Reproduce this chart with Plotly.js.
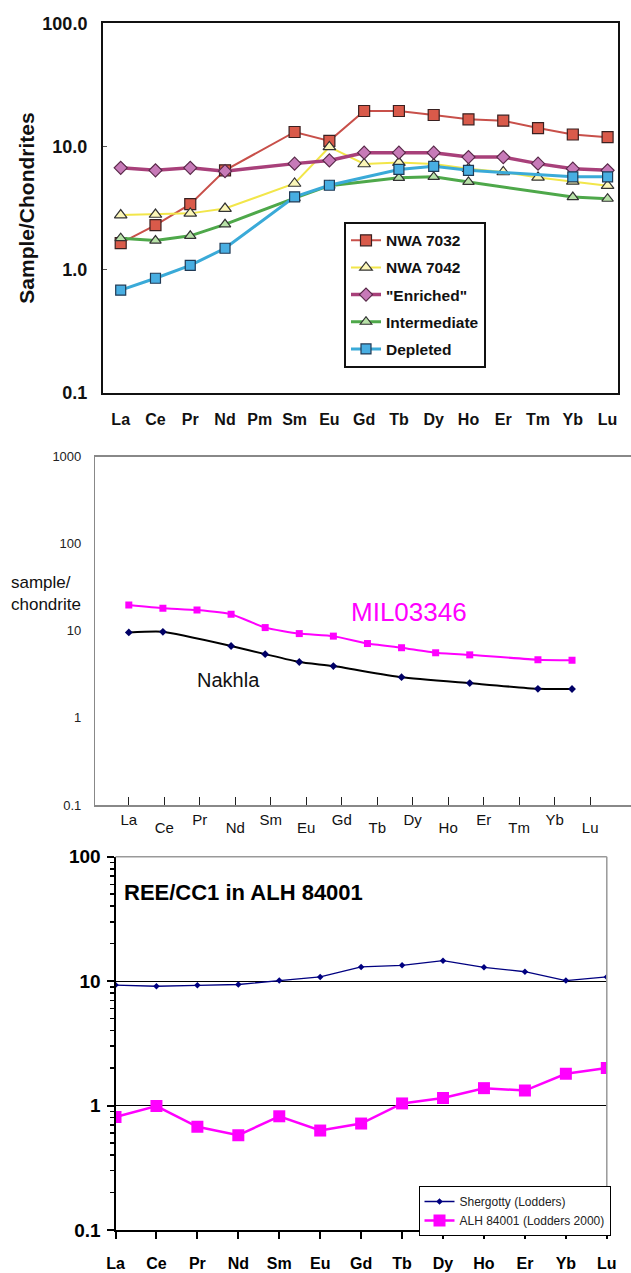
<!DOCTYPE html>
<html><head><meta charset="utf-8">
<script src="https://cdn.plot.ly/plotly-3.0.1.min.js"></script>
<style>html,body{margin:0;padding:0;background:#fff}#c{width:631px;height:1273px}</style>
</head><body><div id="c"></div>
<script>
// ---------- Chart 1 ----------
const ree1 = ['La','Ce','Pr','Nd','Pm','Sm','Eu','Gd','Tb','Dy','Ho','Er','Tm','Yb','Lu'];
const nwa7032 = [1.64,2.3,3.4,6.4,null,13.1,11.1,19.4,19.4,18.0,16.6,16.2,14.1,12.5,11.9];
const nwa7042 = [2.77,2.8,2.86,3.13,null,5.0,9.9,7.2,7.4,7.2,6.6,6.2,5.6,5.2,4.8];
const enriched = [6.7,6.4,6.7,6.3,null,7.25,7.7,8.9,8.9,8.9,8.2,8.2,7.25,6.6,6.4];
const intermediate = [1.8,1.72,1.88,2.33,null,3.8,4.8,null,5.56,5.66,5.15,null,null,3.88,3.76];
const depleted = [0.68,0.85,1.08,1.49,null,3.9,4.84,null,6.5,6.9,6.4,null,null,5.66,5.66];
const yTicks1 = [0.1,1,10,100];
const yTickText1 = ['0.1','1.0','10.0','100.0'];

// ---------- Chart 2 ----------
const ree2 = ['La','Ce','Pr','Nd','Sm','Eu','Gd','Tb','Dy','Ho','Er','Tm','Yb','Lu'];
const mil03346 = [19.8,18.2,17.3,15.5,10.9,9.3,8.7,7.15,6.4,5.6,5.3,null,4.67,4.6];
const nakhla = [9.6,9.75,null,6.7,5.4,4.39,3.94,null,2.94,null,2.51,null,2.16,2.15];
const yTicks2 = [0.1,1,10,100,1000];
const yTickText2 = ['0.1','1','10','100','1000'];

// ---------- Chart 3 ----------
const ree3 = ['La','Ce','Pr','Nd','Sm','Eu','Gd','Tb','Dy','Ho','Er','Yb','Lu'];
const shergotty = [9.3,9.1,9.25,9.4,10.1,10.8,13.0,13.4,14.6,12.9,11.9,10.1,10.8];
const alh84001 = [0.81,0.99,0.675,0.578,0.82,0.63,0.717,1.04,1.15,1.38,1.32,1.80,2.0];
const yTicks3 = [0.1,1,10,100];
const yTickText3 = ['0.1','1','10','100'];

const W = 631, H = 1273;
const fx = px => px / W;
const fy = py => 1 - py / H;
const B = 'Liberation Sans, Arial, sans-serif';
const idx2 = ree2.map((_, i) => i);
const minor3 = [];
[0.1, 1, 10].forEach(d => { for (let k = 2; k <= 9; k++) minor3.push(+(d * k).toPrecision(3)); });

const traces = [
  {x: ree1, y: nwa7032, name: 'NWA 7032', legendgroup:'a', mode:'lines+markers', connectgaps:true,
   line:{color:'#c8504a', width:2}, marker:{symbol:'square', size:11, color:'#d95a4a', line:{color:'#3a2020', width:1.2}}, xaxis:'x', yaxis:'y'},
  {x: ree1, y: nwa7042, name: 'NWA 7042', legendgroup:'b', mode:'lines+markers', connectgaps:true,
   line:{color:'#f2e64a', width:2}, marker:{symbol:'triangle-up', size:11, color:'#fbf6b8', line:{color:'#333', width:1.2}}, xaxis:'x', yaxis:'y'},
  {x: ree1, y: enriched, name: '"Enriched"', legendgroup:'c', mode:'lines+markers', connectgaps:true,
   line:{color:'#a8407a', width:3.5}, marker:{symbol:'diamond', size:10, color:'#c77ab8', line:{color:'#5a2a4a', width:1.2}}, xaxis:'x', yaxis:'y'},
  {x: ree1, y: intermediate, name: 'Intermediate', legendgroup:'d', mode:'lines+markers', connectgaps:true,
   line:{color:'#4ea84a', width:3}, marker:{symbol:'triangle-up', size:10, color:'#b8e2a8', line:{color:'#333', width:1.2}}, xaxis:'x', yaxis:'y'},
  {x: ree1, y: depleted, name: 'Depleted', legendgroup:'e', mode:'lines+markers', connectgaps:true,
   line:{color:'#3aaad8', width:3}, marker:{symbol:'square', size:10, color:'#48aee2', line:{color:'#203a55', width:1.2}}, xaxis:'x', yaxis:'y'},

  {x: ree2, y: mil03346, name: 'MIL03346', mode:'lines+markers', connectgaps:true, showlegend:false,
   line:{color:'#ff00ff', width:2, shape:'spline', smoothing:0.5}, marker:{symbol:'square', size:7, color:'#ff00ff'}, xaxis:'x2', yaxis:'y2'},
  {x: ree2, y: nakhla, name: 'Nakhla', mode:'lines+markers', connectgaps:true, showlegend:false,
   line:{color:'#000000', width:2, shape:'spline', smoothing:0.5}, marker:{symbol:'diamond', size:6, color:'#000066'}, xaxis:'x2', yaxis:'y2'},
  // carriers so the element tick axes of chart 2 are drawn (mode 'none' draws nothing)
  {x: idx2, y: nakhla, mode:'none', showlegend:false, hoverinfo:'skip', xaxis:'x3', yaxis:'y2'},
  {x: idx2, y: nakhla, mode:'none', showlegend:false, hoverinfo:'skip', xaxis:'x4', yaxis:'y2'},

  {x: ree3, y: shergotty, name: 'Shergotty (Lodders)', legend:'legend2', mode:'lines+markers',
   line:{color:'#000080', width:1.3}, marker:{symbol:'diamond', size:5, color:'#000080'}, xaxis:'x5', yaxis:'y5'},
  {x: ree3, y: alh84001, name: 'ALH 84001 (Lodders 2000)', legend:'legend2', mode:'lines+markers',
   line:{color:'#ff00ff', width:2.5}, marker:{symbol:'square', size:12, color:'#ff00ff'}, xaxis:'x5', yaxis:'y5'}
];

const layout = {
  width: W, height: H, margin:{l:0,r:0,t:0,b:0}, paper_bgcolor:'#fff', plot_bgcolor:'rgba(0,0,0,0)',
  font:{family:B, color:'#000'},
  // chart 1
  xaxis:{domain:[fx(103), fx(617.5)], anchor:'y', type:'category', categoryorder:'array', categoryarray:ree1, range:[-0.509,14.285],
    showline:true, mirror:true, linecolor:'#111', linewidth:2, ticks:'', showgrid:false, zeroline:false,
    tickfont:{size:16, family:B, weight:'bold', color:'#111'}, ticklabelstandoff:11},
  yaxis:{domain:[fy(392.7), fy(23.3)], anchor:'x', type:'log', range:[-1,2], tickvals:yTicks1, ticktext:yTickText1,
    showline:true, mirror:true, linecolor:'#111', linewidth:2, ticks:'inside', ticklen:4, tickcolor:'#555', showgrid:false, zeroline:false,
    tickfont:{size:18, family:B, weight:'bold', color:'#111'}, ticklabelstandoff:10,
    title:{text:'Sample/Chondrites', font:{size:21, family:B, weight:'bold', color:'#111'}, standoff:2}},
  legend:{x:fx(344), y:fy(221.7), xanchor:'left', yanchor:'top', bgcolor:'#fff', bordercolor:'#111', borderwidth:2,
    font:{size:15.5, family:B, weight:'bold', color:'#111'}, traceorder:'grouped', tracegroupgap:4, itemwidth:30},
  // chart 2 (data axis)
  xaxis2:{domain:[fx(95.4), 1], anchor:'y2', type:'category', categoryorder:'array', categoryarray:ree2, range:[-0.98,14.73],
    showline:true, mirror:true, linecolor:'#888', linewidth:1.5, ticks:'', showticklabels:false, showgrid:false, zeroline:false},
  yaxis2:{domain:[fy(805), fy(456.7)], anchor:'x2', type:'log', range:[-1,3], tickvals:yTicks2, ticktext:yTickText2,
    showline:true, linecolor:'#888', linewidth:1.5, ticks:'', showgrid:false, zeroline:false,
    tickfont:{size:13, family:B, color:'#222'}, ticklabelstandoff:10},
  // chart 2 tick axes (odd labels / even labels)
  xaxis3:{domain:[fx(95.4), 1], anchor:'y2', overlaying:'x2', type:'linear', range:[-0.94,14.15],
    tickmode:'array', tickvals:idx2, ticktext:ree2.map((t,i)=> i%2===0 ? t : ' '), ticks:'inside', ticklen:8, tickwidth:1.3, tickcolor:'#222',
    showline:false, showgrid:false, zeroline:false, tickfont:{size:15, family:B, color:'#111'}, ticklabelstandoff:4},
  xaxis4:{domain:[fx(95.4), 1], anchor:'y2', overlaying:'x2', type:'linear', range:[-0.94,14.15],
    tickmode:'array', tickvals:idx2, ticktext:ree2.map((t,i)=> i%2===1 ? t : ' '), ticks:'',
    showline:false, showgrid:false, zeroline:false, tickfont:{size:15, family:B, color:'#111'}, ticklabelstandoff:12},
  // chart 3
  xaxis5:{domain:[fx(115.5), fx(606.8)], anchor:'y5', type:'category', categoryorder:'array', categoryarray:ree3, range:[0,12],
    showline:true, linecolor:'#000', linewidth:2, ticks:'outside', ticklen:7, tickwidth:2, tickcolor:'#000',
    showgrid:false, zeroline:false, tickfont:{size:16, family:B, weight:'bold', color:'#000'}, ticklabelstandoff:11},
  yaxis5:{domain:[fy(1230), fy(856.7)], anchor:'x5', type:'log', range:[-1,2], tickvals:yTicks3, ticktext:yTickText3,
    showline:true, linecolor:'#000', linewidth:2, ticks:'outside', ticklen:7, tickwidth:2, tickcolor:'#000',
    showgrid:true, gridcolor:'#000', gridwidth:1, zeroline:false,
    minor:{ticks:'outside', ticklen:4, tickwidth:1.5, tickcolor:'#000', tickmode:'array', tickvals:minor3, showgrid:false},
    tickfont:{size:19, family:B, weight:'bold', color:'#000'}, ticklabelstandoff:2},
  legend2:{x:fx(418.5), y:fy(1186), xanchor:'left', yanchor:'top', bgcolor:'#fff', bordercolor:'#000', borderwidth:1,
    font:{size:12, family:B, color:'#222'}, itemwidth:30},
  shapes:[
    {type:'line', xref:'x5 domain', yref:'y5 domain', x0:0, x1:1, y0:1, y1:1, line:{color:'#999', width:1.5}},
    {type:'line', xref:'x5 domain', yref:'y5 domain', x0:1, x1:1, y0:0, y1:1, line:{color:'#999', width:1.5}}
  ],
  annotations:[
    {text:'MIL03346', xref:'paper', yref:'paper', x:fx(349), y:fy(612), xanchor:'left', yanchor:'middle', showarrow:false,
     font:{size:26, family:B, color:'#ff00ff'}},
    {text:'Nakhla', xref:'paper', yref:'paper', x:fx(195), y:fy(680), xanchor:'left', yanchor:'middle', showarrow:false,
     font:{size:20, family:B, color:'#111'}},
    {text:'sample/<br>chondrite', xref:'paper', yref:'paper', x:fx(9), y:fy(593), xanchor:'left', yanchor:'middle', align:'left', showarrow:false,
     font:{size:17, family:B, color:'#111'}},
    {text:'REE/CC1 in ALH 84001', xref:'paper', yref:'paper', x:fx(122), y:fy(892), xanchor:'left', yanchor:'middle', showarrow:false,
     font:{size:22, family:B, weight:'bold', color:'#000'}}
  ]
};
Plotly.newPlot('c', traces, layout, {staticPlot:true, displayModeBar:false});
</script></body></html>
